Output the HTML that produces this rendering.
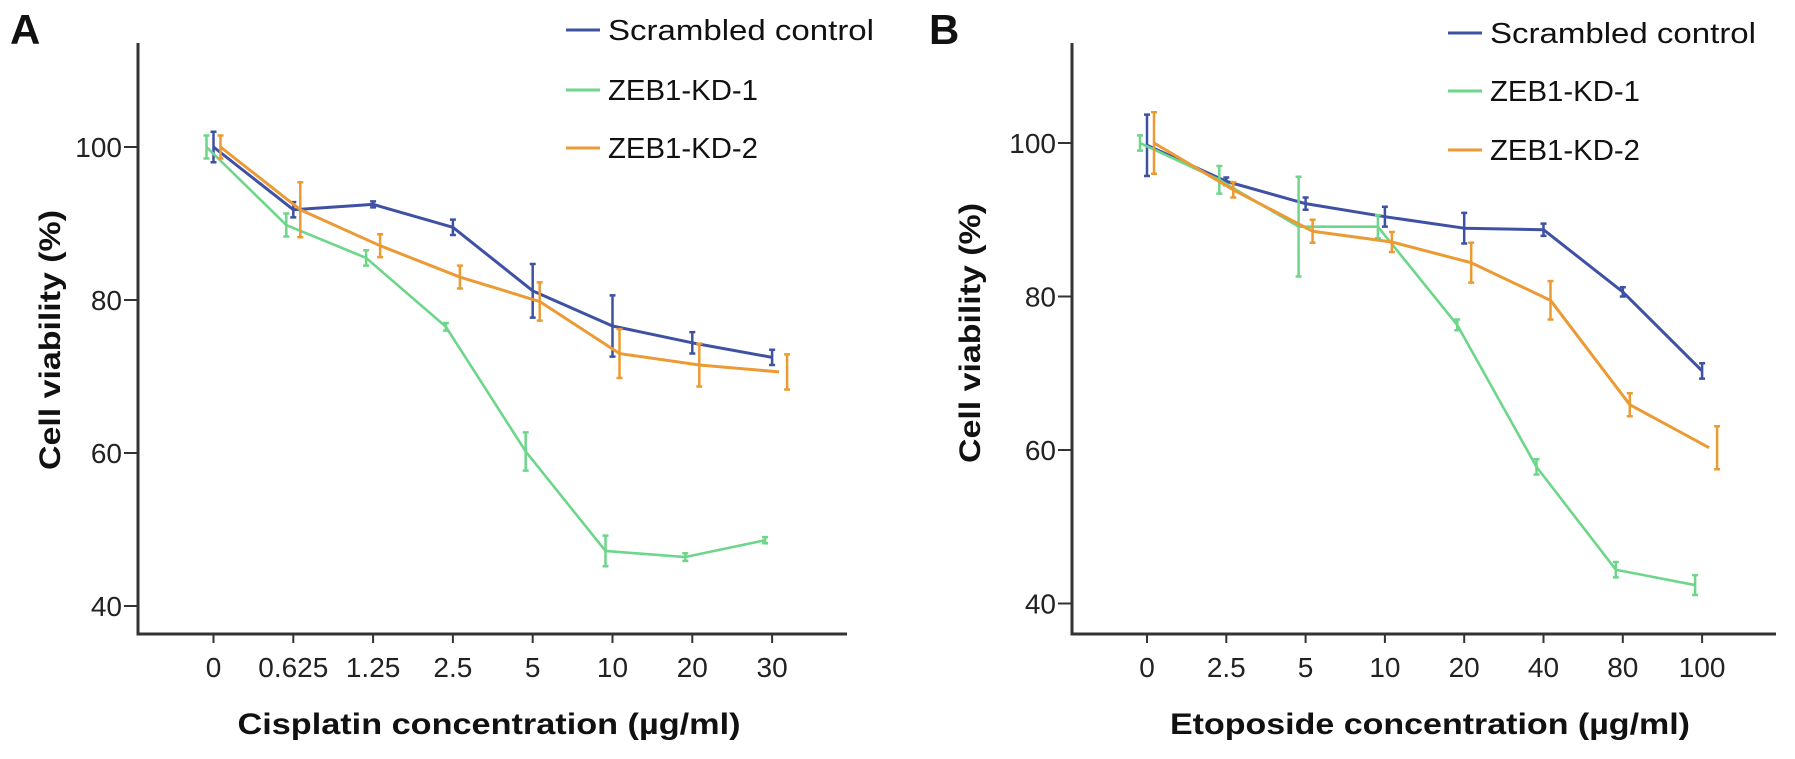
<!DOCTYPE html>
<html><head><meta charset="utf-8">
<style>
body{margin:0;background:#fff;}
svg{display:block;font-family:"Liberation Sans",Arial,sans-serif;}
</style></head>
<body>
<svg id="fig" width="1795" height="759" viewBox="0 0 1795 759" xmlns="http://www.w3.org/2000/svg"></svg>
<script>
// ---- Panel A data (Cisplatin) ----
const catsA = ["0","0.625","1.25","2.5","5","10","20","30"];
const scrA = [100,91.8,92.5,89.5,81.2,76.6,74.4,72.5];
const scrAerr = [2,1,0.4,1,3.5,4,1.4,1];
const kd1A = [100,89.8,85.5,76.5,60.2,47.2,46.4,48.6];
const kd1Aerr = [1.5,1.5,1,0.5,2.5,2,0.5,0.4];
const kd2A = [100,91.8,87.1,83,79.8,73,71.5,70.6];
const kd2Aerr = [1.5,3.6,1.5,1.5,2.5,3.2,2.8,2.3];
// ---- Panel B data (Etoposide) ----
const catsB = ["0","2.5","5","10","20","40","80","100"];
const scrB = [99.7,95,92.1,90.4,88.9,88.7,80.6,70.3];
const scrBerr = [4,0.5,0.8,1.3,2,0.8,0.6,1];
const kd1B = [100,95.2,89.1,89.1,76.3,57.8,44.4,42.4];
const kd1Berr = [1,1.8,6.5,1.5,0.7,1,1,1.3];
const kd2B = [100,93.9,88.5,87.1,84.4,79.5,65.9,60.3];
const kd2Berr = [4,1,1.5,1.3,2.6,2.5,1.5,2.8];
const yTicks = [100,80,60,40];
const seriesNames = ["Scrambled control","ZEB1-KD-1","ZEB1-KD-2"];

const NS="http://www.w3.org/2000/svg";
const svg=document.getElementById('fig');
function mk(tag,attrs,parent){const e=document.createElementNS(NS,tag);for(const k in attrs)e.setAttribute(k,attrs[k]);(parent||svg).appendChild(e);return e;}
const COLORS=["#3f51a3","#6dd68a","#eb9a34"];
const WIDTHS=[3,2.6,3];

function panel(cfg){
  const g=mk('g',{});
  
  
  const x=i=>cfg.x0+i*cfg.dx;
  const y=v=>cfg.y100+(100-v)*cfg.py;
  const ya=mk('line',{x1:cfg.ax,y1:43,x2:cfg.ax,y2:635,stroke:'#333','stroke-width':3},g);
  
  
  const xa=mk('line',{x1:cfg.ax-1.5,y1:634,x2:cfg.axEnd,y2:634,stroke:'#333','stroke-width':3},g);
  
  
  yTicks.forEach(v=>{
    mk('line',{x1:cfg.ax-14,y1:y(v),x2:cfg.ax,y2:y(v),stroke:'#333','stroke-width':2},g);
    const t=mk('text',{x:cfg.ax-16,y:y(v)+10,'text-anchor':'end','font-size':28,fill:'#222'},g);
    t.textContent=v;
    
    
  });
  cfg.cats.forEach((c,i)=>{
    mk('line',{x1:x(i),y1:634,x2:x(i),y2:643,stroke:'#333','stroke-width':2},g);
    const t=mk('text',{x:x(i),y:677,'text-anchor':'middle','font-size':28,fill:'#222'},g);
    t.textContent=c;
    
    
  });
  cfg.series.forEach((s,si)=>{
    const off=[0,-7,7][si];
    const pts=s.v.map((v,i)=>[x(i)+off,y(v)]);
    const pl=mk('polyline',{points:pts.map(p=>p.join(',')).join(' '),fill:'none',stroke:COLORS[si],'stroke-width':WIDTHS[si],'stroke-linejoin':'round'},g);
    
    
    s.v.forEach((v,i)=>{
      const e=s.e[i],cx=x(i)+off+(si===2&&i===s.v.length-1?8:0);
      const eb=mk('path',{d:`M${cx},${y(v+e)}V${y(v-e)}M${cx-3},${y(v+e)}h6M${cx-3},${y(v-e)}h6`,stroke:COLORS[si],'stroke-width':2.5,fill:'none'},g);
      
      
    });
  });
  const xt=mk('text',{x:cfg.xtX,y:734,'text-anchor':'middle','font-size':30,'font-weight':'bold',fill:'#111',textLength:cfg.xtLen,lengthAdjust:'spacingAndGlyphs'},g);
  xt.textContent=cfg.xTitle;
  
  
  const yt=mk('text',{x:0,y:0,'text-anchor':'middle','font-size':30,'font-weight':'bold',fill:'#111',textLength:260,lengthAdjust:'spacingAndGlyphs',transform:`translate(${cfg.ytX},${cfg.ytY}) rotate(-90)`},g);
  yt.textContent='Cell viability (%)';
  
  
  const pl=mk('text',{x:cfg.labX,y:44,'font-size':42,'font-weight':'bold',fill:'#111'},g);
  pl.textContent=cfg.label;
  
  
  seriesNames.forEach((n,i)=>{
    const ly=cfg.legY[i];
    const ll=mk('line',{x1:cfg.legX,y1:ly,x2:cfg.legX+34,y2:ly,stroke:COLORS[i],'stroke-width':3},g);
    
    
    const lt=mk('text',{x:cfg.legX+42,y:ly+10,'font-size':29,fill:'#111',textLength:[266,150,150][i],lengthAdjust:'spacingAndGlyphs'},g);
    lt.textContent=n;
    
    
  });
}

panel({name:'panel-a-cisplatin',label:'A',labX:10,ax:138,axEnd:847,x0:213.5,dx:79.8,y100:147,py:7.65,cats:catsA,
  series:[{v:scrA,e:scrAerr},{v:kd1A,e:kd1Aerr},{v:kd2A,e:kd2Aerr}],
  xTitle:'Cisplatin concentration (µg/ml)',xtX:489,xtLen:503,ytX:60,ytY:340,legX:566,legY:[30,90,148]});
panel({name:'panel-b-etoposide',label:'B',labX:929,ax:1072,axEnd:1776,x0:1147,dx:79.3,y100:143,py:7.675,cats:catsB,
  series:[{v:scrB,e:scrBerr},{v:kd1B,e:kd1Berr},{v:kd2B,e:kd2Berr}],
  xTitle:'Etoposide concentration (µg/ml)',xtX:1430,xtLen:520,ytX:980,ytY:333,legX:1448,legY:[33,91,150]});
</script>
</body></html>
